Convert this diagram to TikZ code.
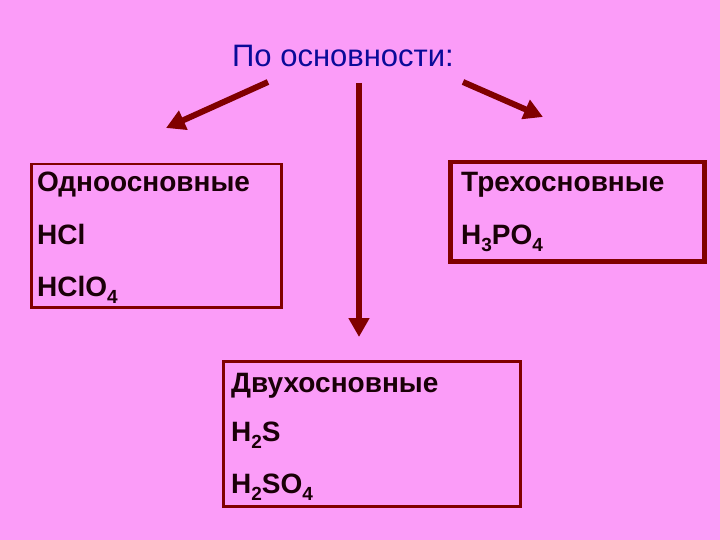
\documentclass[tikz,border=0pt]{standalone}
\usepackage{fontspec}
\setmainfont{Liberation Sans}
\usetikzlibrary{arrows.meta}
\definecolor{bgpink}{HTML}{FB9CF8}
\definecolor{maroon}{HTML}{800000}
\definecolor{titleblue}{HTML}{0A0A99}
\definecolor{txtdark}{HTML}{1A0008}
\newcommand{\chsub}[1]{\raisebox{-0.28em}{\fontsize{19}{19}\selectfont #1}}
\begin{document}
\begin{tikzpicture}[x=1pt,y=-1pt,
  catbox/.style={draw=maroon,line width=2.5pt,inner sep=0pt,anchor=north west},
  boxtxt/.style={anchor=base west,inner sep=0pt,text=txtdark,font=\fontsize{28}{28}\selectfont\bfseries},
  arr/.style={draw=maroon,line width=6pt,-{Triangle[length=19pt,width=20pt]}}]
\fill[bgpink] (0,0) rectangle (720,540);
\useasboundingbox (0,0) rectangle (720,540);
\node[anchor=base,inner sep=0pt,text=titleblue,font=\fontsize{31}{31}\selectfont] (title) at (343,67) {По основности:};
% boxes
\node[catbox,minimum width=250pt,minimum height=143pt] (one) at (30,163) {};
\node[catbox,line width=4.5pt,minimum width=254pt,minimum height=99pt] (three) at (448,160) {};
\node[catbox,minimum width=297pt,minimum height=145pt] (two) at (222,360) {};
% texts
\node[boxtxt] (t1) at (37,192) {Одноосновные};
\node[boxtxt] (t1a) at (37,244) {HCl};
\node[boxtxt] (t1b) at (37,296) {HClO\chsub{4}};
\node[boxtxt] (t3) at (461,192) {Трехосновные};
\node[boxtxt] (t3a) at (461,244) {H\chsub{3}PO\chsub{4}};
\node[boxtxt] (t2) at (231,392) {Двухосновные};
\node[boxtxt] (t2a) at (231,441) {H\chsub{2}S};
\node[boxtxt] (t2b) at (231,493) {H\chsub{2}SO\chsub{4}};
% arrows
\coordinate (la) at (268,82);
\coordinate (lb) at (166,128);
\coordinate (ma) at (359,83);
\coordinate (mb) at (359,337);
\coordinate (ra) at (463,82);
\coordinate (rb) at (543,117);
\draw[arr] (la) -- (lb);
\draw[arr] (ma) -- (mb);
\draw[arr] (ra) -- (rb);
\end{tikzpicture}
\end{document}
